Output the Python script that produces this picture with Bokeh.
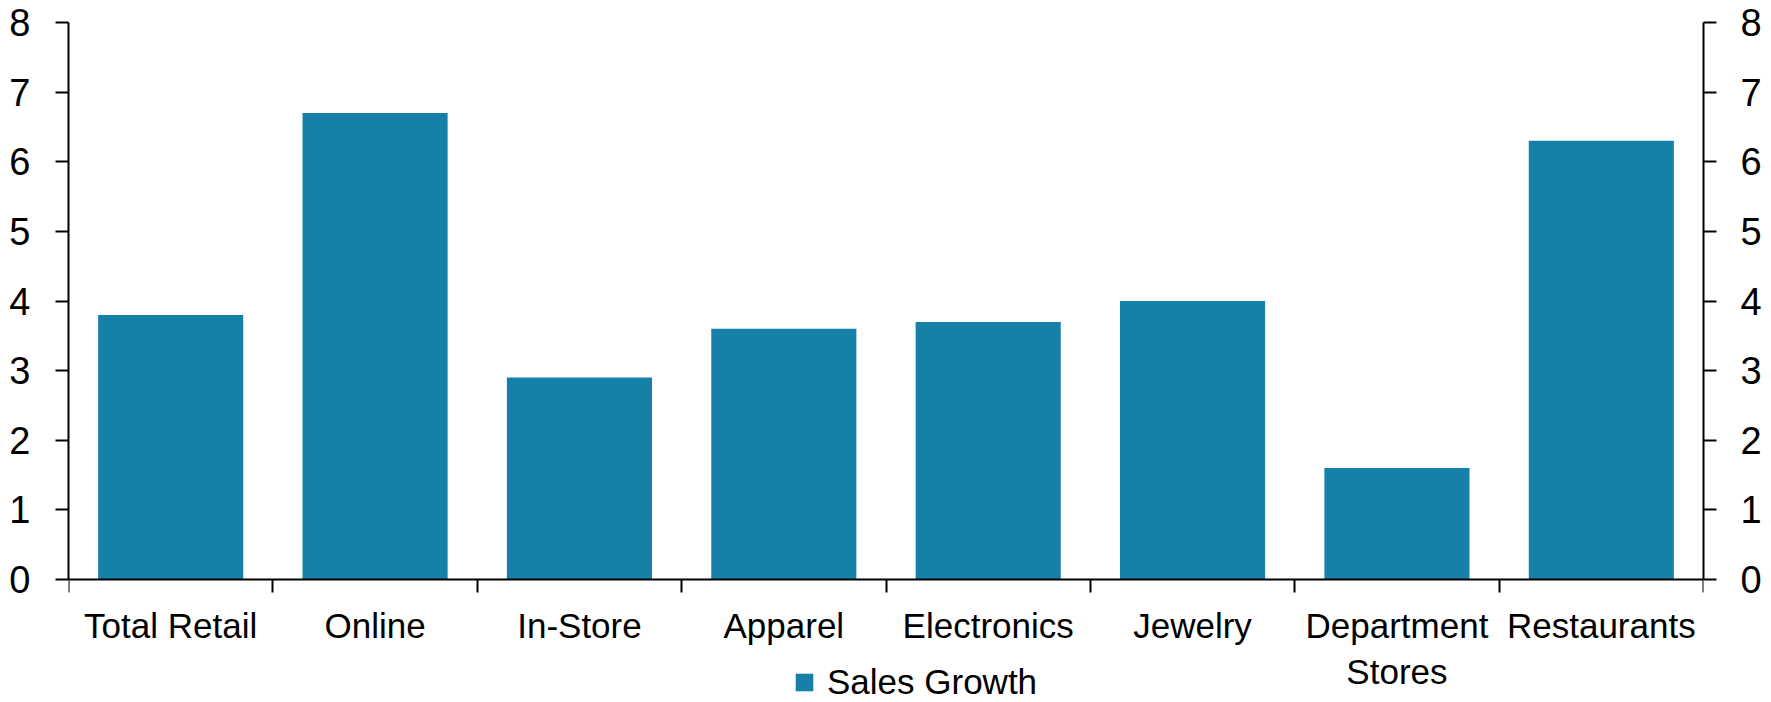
import numpy as np
from bokeh.plotting import figure
from bokeh.models import Range1d, LinearAxis, FixedTicker, Legend, LegendItem, ColumnDataSource
from bokeh.embed import file_html
from bokeh.resources import INLINE

categories = ["Total Retail", "Online", "In-Store", "Apparel", "Electronics",
              "Jewelry", "Department\nStores", "Restaurants"]
sales_growth = [3.8, 6.7, 2.9, 3.6, 3.7, 4.0, 1.6, 6.3]
y_ticks = [0, 1, 2, 3, 4, 5, 6, 7, 8]
y_max = 8

FONT = "Liberation Sans"
BAR_COLOR = "#1580A8"
X_FS = "35px"
Y_FS = "38px"

# layout (figure pixels)
W, H = 1771, 702
TOP = 22            # frame top (value y_max)
ZERO = 579          # pixel row of value 0
LEFT, RIGHT = 68, 68

n = len(categories)
centers = [i + 0.5 for i in range(n)]
bounds = [float(i) for i in range(n + 1)]
y_lo = -y_max * (H - ZERO) / (ZERO - TOP)

src = ColumnDataSource(dict(x=centers, top=sales_growth, cat=categories))

p = figure(width=W, height=H, output_backend="svg", toolbar_location=None,
           x_range=Range1d(0, n), y_range=Range1d(y_lo, y_max),
           min_border_left=LEFT, min_border_right=RIGHT, min_border_top=TOP, min_border_bottom=0,
           x_axis_type=None, y_axis_type=None)
p.outline_line_color = None
p.xgrid.visible = False
p.ygrid.visible = False

r = p.vbar(x="x", top="top", bottom=0, width=0.71, source=src,
           fill_color=BAR_COLOR, line_color=None)

def style_y(ax, standoff):
    ax.ticker = FixedTicker(ticks=y_ticks)
    ax.bounds = (0, y_max)
    ax.axis_line_color = "black"
    ax.axis_line_width = 2
    ax.major_tick_line_color = "black"
    ax.major_tick_line_width = 2
    ax.major_tick_in = 0
    ax.major_tick_out = 13
    ax.minor_tick_line_color = None
    ax.major_label_text_font = FONT
    ax.major_label_text_font_size = Y_FS
    ax.major_label_text_color = "black"
    ax.major_label_standoff = standoff

yl = LinearAxis()
style_y(yl, 25)
p.add_layout(yl, "left")
yr = LinearAxis()
style_y(yr, 24)
p.add_layout(yr, "right")

xa = LinearAxis(fixed_location=0)
xa.ticker = FixedTicker(ticks=centers, minor_ticks=bounds)
xa.major_label_overrides = {c: lab for c, lab in zip(centers, categories)}
xa.axis_line_color = "black"
xa.axis_line_width = 2
xa.major_tick_in = 0
xa.major_tick_out = 0
xa.major_tick_line_color = None
xa.minor_tick_in = 0
xa.minor_tick_out = 13
xa.minor_tick_line_color = "black"
xa.minor_tick_line_width = 2
xa.major_label_text_font = FONT
xa.major_label_text_font_size = X_FS
xa.major_label_text_color = "black"
xa.major_label_standoff = 13
p.add_layout(xa, "below")

legend = Legend(items=[LegendItem(label="Sales Growth", renderers=[r])],
                location=(725, 0), orientation="horizontal",
                glyph_width=22, glyph_height=22, label_standoff=12,
                label_text_font=FONT, label_text_font_size=X_FS, label_text_color="black",
                padding=0, margin=0, spacing=0, border_line_color=None,
                background_fill_alpha=0)
p.add_layout(legend, "center")

open("out.html", "w").write(file_html(p, INLINE))
